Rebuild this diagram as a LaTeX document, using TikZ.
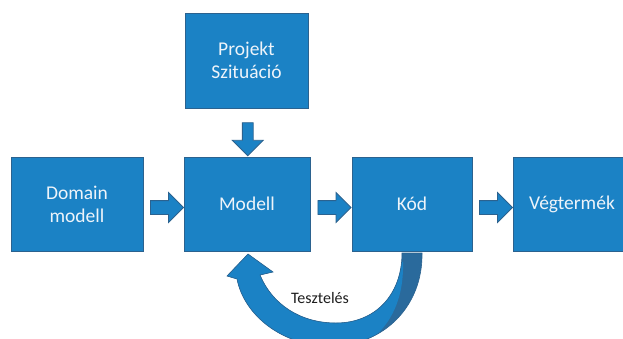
\documentclass[tikz,border=0pt]{standalone}
\usepackage{fontspec}
\setmainfont{Carlito}
\usetikzlibrary{shapes.arrows,calc}
\definecolor{boxblue}{HTML}{1B82C5}
\definecolor{boxedge}{HTML}{2B628F}
\definecolor{backband}{HTML}{2A6A9C}
\definecolor{boxtext}{HTML}{EEF4FA}
\definecolor{labeltext}{HTML}{1E1E1E}
\begin{document}
\begin{tikzpicture}[x=1pt,y=-1pt,
  block/.style={draw=boxedge, line width=1pt, fill=boxblue, text=boxtext,
    minimum height=94pt, align=center, inner sep=0pt,
    font=\fontsize{19.5}{23}\selectfont},
  flowarrow/.style={single arrow, draw=boxedge, line width=0.8pt, fill=boxblue,
    inner xsep=0pt, inner ysep=6.5pt, minimum height=33pt,
    single arrow head extend=8pt, single arrow head indent=0pt},
  droparrow/.style={single arrow, draw=boxedge, line width=0.8pt, fill=boxblue,
    inner sep=5pt, minimum height=33pt, single arrow head extend=10pt,
    single arrow head indent=0pt, shape border rotate=270}]
\useasboundingbox (0,0) rectangle (623,338);
\clip (0,0) rectangle (623,338);

% process boxes
\node[block, minimum width=123pt, minimum height=95pt] (proj) at (246.5,60.5) {Projekt\\Szituáció};
\node[block, minimum width=132pt] (dom) at (77,204) {Domain\\modell};
\node[block, minimum width=126pt] (mod) at (247,204) {Modell};
\node[block, minimum width=120pt] (kod) at (412,204) {Kód};
\node[block, minimum width=118pt] (veg) at (572,204) {Végtermék};

% block arrows between the boxes
\node[droparrow] (a0) at ($(proj.south)!0.5!(mod.north)+(1,4)$) {};
\node[flowarrow] (a1) at ($(dom.east)!0.5!(mod.west)+(0,3.5)$) {};
\node[flowarrow] (a2) at ($(mod.east)!0.5!(kod.west)+(0,3.5)$) {};
\node[flowarrow] (a3) at ($(kod.east)!0.5!(veg.west)+(0,3.5)$) {};

% curved feedback arrow from Kód back to Modell
\def\loopshape{(422,253) .. controls (423,305) and (385,346) .. (330,346)
  .. controls (282,346) and (244,315) .. (237,279)
  -- (227,276) -- (248,254) -- (273,272) -- (260,275)
  .. controls (272,304) and (300,323) .. (336,323)
  .. controls (375,323) and (402,295) .. (402,253) -- cycle}
\fill[backband] \loopshape;
\begin{scope}
  \clip \loopshape;
  \fill[boxblue] (300,240) -- (403,262) .. controls (404,300) and (390,332) .. (355,350)
    -- (200,350) -- (200,240) -- cycle;
\end{scope}
\draw[boxedge, line width=0.6pt] \loopshape;

\node[text=labeltext, font=\fontsize{16}{19}\selectfont] (test) at (320,298) {Tesztelés};
\end{tikzpicture}
\end{document}
